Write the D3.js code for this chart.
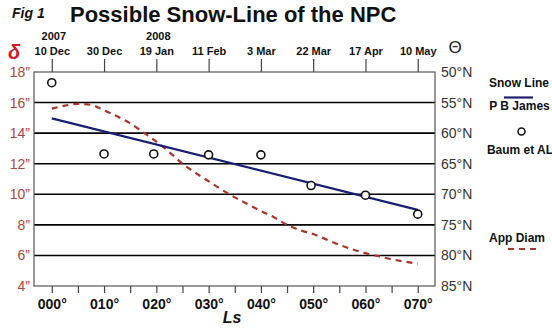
<!DOCTYPE html>
<html>
<head>
<meta charset="utf-8">
<script src="https://cdn.jsdelivr.net/npm/d3@7"></script>
<style>
  html, body { margin: 0; padding: 0; background: #fff; }
  svg { display: block; font-family: Arial, "Liberation Sans", sans-serif; }
</style>
</head>
<body>
<svg id="chart" width="552" height="329"></svg>
<script>
// Solar longitude ticks (degrees) and matching Earth dates
const lsTicks = [0, 10, 20, 30, 40, 50, 60, 70];
const lsLabels = ["000°", "010°", "020°", "030°", "040°", "050°", "060°", "070°"];
const dateLabels = ["10 Dec", "30 Dec", "19 Jan", "11 Feb", "3 Mar", "22 Mar", "17 Apr", "10 May"];
const yearLabels = [{ ls: 0, text: "2007" }, { ls: 20, text: "2008" }];

// Apparent diameter axis (arcsec) and latitude axis
const diamTicks = [18, 16, 14, 12, 10, 8, 6, 4];
const latLabels = ["50°N", "55°N", "60°N", "65°N", "70°N", "75°N", "80°N", "85°N"];

// Snow line fit (P B James), in arcsec-axis units
const jamesLs = [0, 70];
const jamesVal = [14.97, 8.98];

// Baum et al. observations
const baumLs = [0, 10, 19.5, 30, 40, 49.6, 60, 70];
const baumVal = [17.3, 12.64, 12.64, 12.58, 12.58, 10.57, 9.94, 8.7];

// Apparent diameter of Mars
const diamLs = [0, 2.5, 5, 7.5, 10, 12.5, 15, 17.5, 20, 22.5, 25, 27.5, 30, 32.5, 35,
                37.5, 40, 42.5, 45, 47.5, 50, 52.5, 55, 57.5, 60, 62.5, 65, 67.5, 70];
const diamVal = [15.6, 15.8, 15.92, 15.85, 15.5, 15.1, 14.65, 14.05, 13.45, 12.75, 12.0, 11.4, 10.85, 10.3, 9.8,
                 9.35, 8.9, 8.5, 8.0, 7.65, 7.4, 7.05, 6.7, 6.4, 6.15, 5.95, 5.75, 5.6, 5.45];

const svg = d3.select("#chart");
const box = { left: 34, right: 435, top: 72, bottom: 286 };

const x = d3.scaleLinear().domain([-3.4, 73.3]).range([box.left, box.right]);
const y = d3.scaleLinear().domain([4, 18]).range([box.bottom, box.top]);

// Title
svg.append("text").attr("x", 12).attr("y", 18)
  .attr("font-size", 14).attr("font-weight", "bold").attr("font-style", "italic")
  .attr("fill", "#111").text("Fig 1");
svg.append("text").attr("x", 70).attr("y", 22)
  .attr("font-size", 22).attr("font-weight", "bold")
  .attr("fill", "#111").text("Possible Snow-Line of the NPC");

// Horizontal grid lines
svg.append("g").selectAll("line").data(diamTicks.slice(1, -1)).join("line")
  .attr("x1", box.left).attr("x2", box.right)
  .attr("y1", d => y(d)).attr("y2", d => y(d))
  .attr("stroke", "#000").attr("stroke-width", 1.6);

// Plot frame
svg.append("rect")
  .attr("x", box.left).attr("y", box.top)
  .attr("width", box.right - box.left).attr("height", box.bottom - box.top)
  .attr("fill", "none").attr("stroke", "#555").attr("stroke-width", 1.2);

// Bottom axis: Ls with minor ticks every 5°
const bottomAxis = d3.axisBottom(x)
  .tickValues(d3.range(0, 71, 5))
  .tickSize(7)
  .tickFormat(d => (d % 10 === 0 ? lsLabels[lsTicks.indexOf(d)] : ""));
const gb = svg.append("g").attr("transform", `translate(0,${box.bottom})`).call(bottomAxis);
gb.select(".domain").remove();
gb.selectAll(".tick line").attr("stroke", "#444").attr("stroke-width", 1.2);
gb.selectAll(".tick text")
  .attr("y", 13).attr("dy", "0.71em")
  .attr("font-size", 14).attr("font-weight", "bold").attr("fill", "#111")
  .attr("font-family", "Arial, 'Liberation Sans', sans-serif");

svg.append("text").attr("x", 232).attr("y", 323).attr("text-anchor", "middle")
  .attr("font-size", 16).attr("font-weight", "bold").attr("font-style", "italic")
  .attr("fill", "#111").text("Ls");

// Top axis: calendar dates
const topAxis = d3.axisTop(x).tickValues(lsTicks).tickSize(13)
  .tickFormat((d, i) => dateLabels[i]);
const gt = svg.append("g").attr("transform", `translate(0,${box.top})`).call(topAxis);
gt.select(".domain").remove();
gt.selectAll(".tick line").attr("stroke", "#444").attr("stroke-width", 1.2);
gt.selectAll(".tick text")
  .attr("y", -17)
  .attr("font-size", 11).attr("font-weight", "bold").attr("fill", "#111")
  .attr("font-family", "Arial, 'Liberation Sans', sans-serif");

svg.append("g").selectAll("text").data(yearLabels).join("text")
  .attr("x", d => x(d.ls) + 2).attr("y", 40).attr("text-anchor", "middle")
  .attr("font-size", 11).attr("font-weight", "bold").attr("fill", "#111")
  .text(d => d.text);

// Left axis: apparent diameter
const leftAxis = d3.axisLeft(y).tickValues(diamTicks).tickSize(0)
  .tickFormat(d => d + "\u201D");
const gl = svg.append("g").attr("transform", `translate(${box.left - 1},0)`).call(leftAxis);
gl.select(".domain").remove();
gl.selectAll(".tick text")
  .attr("font-size", 14).attr("fill", "#a8473f")
  .attr("font-family", "Arial, 'Liberation Sans', sans-serif");

svg.append("text").attr("x", 14).attr("y", 59).attr("text-anchor", "middle")
  .attr("font-size", 20).attr("font-weight", "bold").attr("font-style", "italic")
  .attr("fill", "#c8202a").text("δ");

// Right axis: latitude
const rightAxis = d3.axisRight(y).tickValues(diamTicks).tickSize(0)
  .tickFormat((d, i) => latLabels[i]);
const gr = svg.append("g").attr("transform", `translate(${box.right + 3},0)`).call(rightAxis);
gr.select(".domain").remove();
gr.selectAll(".tick text")
  .attr("font-size", 14).attr("fill", "#333")
  .attr("font-family", "Arial, 'Liberation Sans', sans-serif");

svg.append("text").attr("x", 455).attr("y", 53).attr("text-anchor", "middle")
  .attr("font-size", 17).attr("fill", "#222").text("Θ");

// Apparent diameter curve
const diamPts = diamLs.map((l, i) => [l, diamVal[i]]);
svg.append("path").datum(diamPts)
  .attr("d", d3.line().x(d => x(d[0])).y(d => y(d[1])).curve(d3.curveMonotoneX))
  .attr("fill", "none").attr("stroke", "#a8352c").attr("stroke-width", 2.2)
  .attr("stroke-dasharray", "6,5");

// Snow line fit
const jamesPts = jamesLs.map((l, i) => [l, jamesVal[i]]);
svg.append("path").datum(jamesPts)
  .attr("d", d3.line().x(d => x(d[0])).y(d => y(d[1])))
  .attr("fill", "none").attr("stroke", "#1c1f6e").attr("stroke-width", 2.2);

// Observations
svg.append("g").selectAll("circle").data(baumLs.map((l, i) => [l, baumVal[i]])).join("circle")
  .attr("cx", d => x(d[0])).attr("cy", d => y(d[1])).attr("r", 4)
  .attr("fill", "#fff").attr("stroke", "#111").attr("stroke-width", 1.6);

// Legend
const lg = svg.append("g").attr("font-weight", "bold").attr("font-size", 12)
  .attr("fill", "#111").attr("text-anchor", "middle");
lg.append("text").attr("x", 519).attr("y", 87).text("Snow Line");
lg.append("line").attr("x1", 504).attr("x2", 533).attr("y1", 97.5).attr("y2", 97.5)
  .attr("stroke", "#1c1f6e").attr("stroke-width", 2.2);
lg.append("text").attr("x", 519.5).attr("y", 110).text("P B James");
lg.append("circle").attr("cx", 521.5).attr("cy", 131.5).attr("r", 3.5)
  .attr("fill", "#fff").attr("stroke", "#111").attr("stroke-width", 1.5);
lg.append("text").attr("x", 520).attr("y", 154).text("Baum et AL");
lg.append("text").attr("x", 517).attr("y", 242).text("App Diam");
lg.append("line").attr("x1", 508).attr("x2", 538).attr("y1", 249).attr("y2", 249)
  .attr("stroke", "#a8352c").attr("stroke-width", 2.2).attr("stroke-dasharray", "6,5");
</script>
</body>
</html>
